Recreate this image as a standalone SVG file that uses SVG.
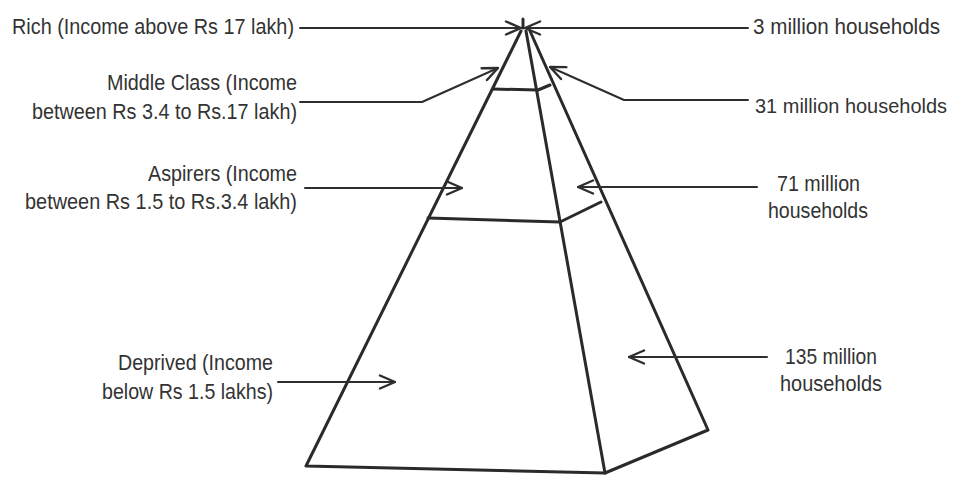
<svg xmlns="http://www.w3.org/2000/svg" width="957" height="479" viewBox="0 0 957 479">
<defs>
<style>
.bg{fill:#ffffff}
.edge{fill:none;stroke:#2a2a2a;stroke-width:3;stroke-linecap:round;stroke-linejoin:round}
.lead{fill:none;stroke:#2e2e2e;stroke-width:2;stroke-linecap:round;stroke-linejoin:round}
.lbl{font-family:"Liberation Sans",Arial,sans-serif;font-size:22px;fill:#333333}
.sm{font-size:20px}
</style>
<marker id="arr" viewBox="0 0 18 16" refX="17" refY="8" markerWidth="18" markerHeight="16" markerUnits="userSpaceOnUse" orient="auto">
<path d="M2,1.5 L17,8 L2,14.5" fill="none" stroke="#2e2e2e" stroke-width="2.4" stroke-linecap="round" stroke-linejoin="round"/>
</marker>
</defs>
<rect class="bg" x="0" y="0" width="957" height="479"/>
<g id="pyramid">
<path class="edge" d="M521,31 L306,466 L605,473 L708,430 L530,31"/>
<path class="edge" d="M526,31 L605,473"/>
<path class="edge" d="M493,89 L538,90 L550,85"/>
<path class="edge" d="M428,218 L560,222 L601,202"/>
<path class="edge" d="M523,28 L523,19"/>
</g>
<g id="connectors">
<path class="lead" d="M300,28 L521,28" marker-end="url(#arr)"/>
<path class="lead" d="M748,28 L525,28" marker-end="url(#arr)"/>
<path class="lead" d="M300,102 L422,102 L498,68" marker-end="url(#arr)"/>
<path class="lead" d="M748,100 L624,100 L550,67" marker-end="url(#arr)"/>
<path class="lead" d="M305,188 L462,188" marker-end="url(#arr)"/>
<path class="lead" d="M757,187 L578,187" marker-end="url(#arr)"/>
<path class="lead" d="M278,382 L395,382" marker-end="url(#arr)"/>
<path class="lead" d="M767,357 L629,357" marker-end="url(#arr)"/>
</g>
<g id="rich">
<text class="lbl" x="12" y="34" textLength="282" lengthAdjust="spacingAndGlyphs">Rich (Income above Rs 17 lakh)</text>
</g>
<g id="middle-class">
<text class="lbl" x="107" y="90" textLength="190" lengthAdjust="spacingAndGlyphs">Middle Class (Income</text>
<text class="lbl" x="32" y="119" textLength="265" lengthAdjust="spacingAndGlyphs">between Rs 3.4 to Rs.17 lakh)</text>
</g>
<g id="aspirers">
<text class="lbl" x="148" y="181" textLength="149" lengthAdjust="spacingAndGlyphs">Aspirers (Income</text>
<text class="lbl" x="25" y="209" textLength="272" lengthAdjust="spacingAndGlyphs">between Rs 1.5 to Rs.3.4 lakh)</text>
</g>
<g id="deprived">
<text class="lbl" x="118" y="370" textLength="155" lengthAdjust="spacingAndGlyphs">Deprived (Income</text>
<text class="lbl" x="102" y="399" textLength="171" lengthAdjust="spacingAndGlyphs">below Rs 1.5 lakhs)</text>
</g>
<g id="hh3">
<text class="lbl" x="753" y="34" textLength="187" lengthAdjust="spacingAndGlyphs">3 million households</text>
</g>
<g id="hh31">
<text class="lbl sm" x="755" y="113" textLength="192" lengthAdjust="spacingAndGlyphs">31 million households</text>
</g>
<g id="hh71">
<text class="lbl" x="777" y="191" textLength="83" lengthAdjust="spacingAndGlyphs">71 million</text>
<text class="lbl" x="768" y="218" textLength="100" lengthAdjust="spacingAndGlyphs">households</text>
</g>
<g id="hh135">
<text class="lbl" x="785" y="364" textLength="92" lengthAdjust="spacingAndGlyphs">135 million</text>
<text class="lbl" x="780" y="391" textLength="102" lengthAdjust="spacingAndGlyphs">households</text>
</g>
</svg>
